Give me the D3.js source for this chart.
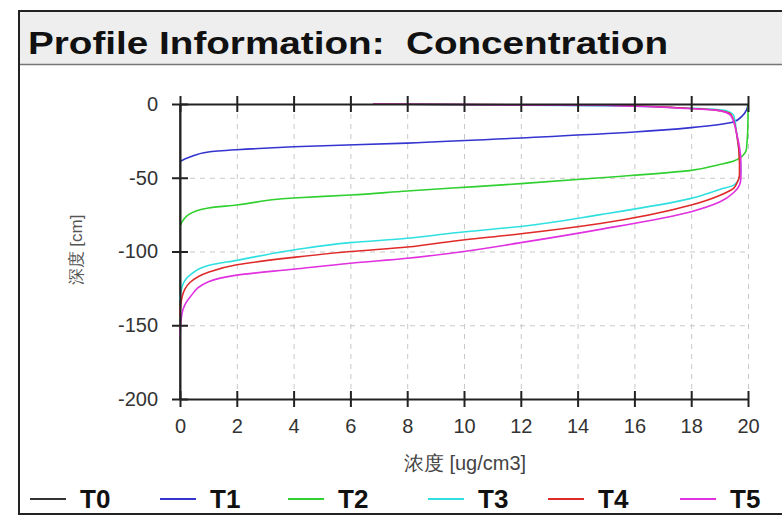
<!DOCTYPE html>
<html>
<head>
<meta charset="utf-8">
<script src="https://cdn.jsdelivr.net/npm/d3@7"></script>
<style>
  body { margin: 0; background: #fff; }
  svg { display: block; font-family: "Liberation Sans", Arial, sans-serif; }
  .title { white-space: pre; }
</style>
</head>
<body>
<svg id="chart" width="782" height="516"></svg>
<script>
// series: concentration [ug/cm3] vs depth [cm]
const seriesNames = ['T0', 'T1', 'T2', 'T3', 'T4', 'T5']
const seriesColors = ['#333333', '#3434d0', '#30d030', '#30e0e0', '#e02a2a', '#e030e0']

const t0Conc  = [0, 0]
const t0Depth = [0, -200]

const t1Conc  = [20, 19.95, 19.8, 19.5, 18, 16, 12, 8, 4, 2, 1, 0.35, 0]
const t1Depth = [0, -4, -8, -12, -16, -19, -23, -26.5, -29, -31, -32.5, -36, -39]

const t2Conc  = [20, 20, 19.95, 19.9, 19.5, 19, 18, 14.8, 12, 9.6, 8, 6, 4, 2, 1, 0.3, 0]
const t2Depth = [0, -10, -30, -33, -38.6, -41, -45, -50, -54, -57, -59, -61.7, -63.7, -68.5, -70.5, -75, -83]

const t3Conc  = [7.2, 12, 16, 17.5, 18.7, 19.3, 19.5, 19.6, 19.7, 19.75, 19.7, 19.5, 19, 18, 14.8, 12, 9.6, 8, 6, 4, 2, 1, 0.35, 0.07, 0]
const t3Depth = [0, -0.8, -1.5, -2.5, -3.5, -5, -8, -20, -35, -45, -50, -55, -58, -64, -75, -83, -87.5, -91, -94, -99, -106, -109.5, -116, -124, -133]

const t4Conc  = [6.8, 15, 17.5, 18.8, 19.4, 19.6, 19.7, 19.7, 19.6, 19.5, 19, 18, 14.8, 12, 9.6, 8, 6, 4, 2, 1, 0.35, 0.07, 0]
const t4Depth = [0, -0.8, -2.5, -4, -7, -20, -40, -48, -54, -57, -62, -68.5, -81, -88, -93, -97, -100, -104, -109, -114, -121, -131, -143]

const t5Conc  = [6.8, 15, 17.8, 19, 19.4, 19.6, 19.75, 19.75, 19.7, 19.5, 19, 18, 14.8, 12, 9.6, 8, 6, 4, 2, 1, 0.35, 0.07, 0]
const t5Depth = [0, -1, -3, -4.5, -8, -20, -40, -50, -55, -60, -66.5, -73, -85, -94, -101, -104.6, -108, -112, -116, -120.5, -131, -142, -158]

const xTicks = [0, 2, 4, 6, 8, 10, 12, 14, 16, 18, 20]
const yTicks = [0, -50, -100, -150, -200]

const titleText = 'Profile Information:  Concentration'
const xLabel = '浓度 [ug/cm3]'
const yLabel = '深度 [cm]'

const concs = [t0Conc, t1Conc, t2Conc, t3Conc, t4Conc, t5Conc]
const depths = [t0Depth, t1Depth, t2Depth, t3Depth, t4Depth, t5Depth]

const svg = d3.select('#chart')
const plot = { left: 180, right: 748, top: 104, bottom: 399 }

// panel + title bar
svg.append('rect')
    .attr('x', 19).attr('y', 11).attr('width', 800).attr('height', 503)
    .attr('fill', '#fff').attr('stroke', '#222').attr('stroke-width', 2)
svg.append('rect')
    .attr('x', 20).attr('y', 12).attr('width', 800).attr('height', 52)
    .attr('fill', '#eeeeee')
svg.append('line')
    .attr('x1', 20).attr('x2', 782).attr('y1', 64.5).attr('y2', 64.5)
    .attr('stroke', '#777').attr('stroke-width', 1.5)
svg.append('text')
    .attr('class', 'title')
    .attr('x', 28).attr('y', 54)
    .attr('font-size', 31).attr('font-weight', 'bold').attr('fill', '#111')
    .attr('textLength', 640).attr('lengthAdjust', 'spacingAndGlyphs')
    .text(titleText)

var x = d3.scaleLinear().domain([0, 20]).range([plot.left, plot.right])
var y = d3.scaleLinear().domain([-200, 0]).range([plot.bottom, plot.top])

// grid
svg.append('g')
    .attr('transform', `translate(0,${plot.bottom})`)
    .call(d3.axisBottom(x).tickValues(xTicks.slice(1)).tickSize(-(plot.bottom - plot.top)).tickFormat(''))
    .call(g => g.select('.domain').remove())
    .selectAll('line').attr('stroke', '#c8c8c8').attr('stroke-dasharray', '5,5')
svg.append('g')
    .attr('transform', `translate(${plot.left},0)`)
    .call(d3.axisLeft(y).tickValues([-50, -100, -150]).tickSize(-(plot.right - plot.left)).tickFormat(''))
    .call(g => g.select('.domain').remove())
    .selectAll('line').attr('stroke', '#c8c8c8').attr('stroke-dasharray', '5,5')

// curves
var line = d3.line()
    .x(d => x(d[0]))
    .y(d => y(d[1]))
    .curve(d3.curveMonotoneY)

concs.forEach((c, i) => {
    let pts = c.map((v, j) => [v, depths[i][j]]).sort((a, b) => a[1] - b[1])
    svg.append('path')
        .datum(pts)
        .attr('fill', 'none')
        .attr('stroke', seriesColors[i])
        .attr('stroke-width', 1.6)
        .attr('d', line)
})

// axes (crossing ticks)
function styleAxis(g, vertical) {
    g.select('.domain').attr('stroke', '#222').attr('stroke-width', 2)
    g.selectAll('.tick line').attr('stroke', '#222').attr('stroke-width', 2)
        .attr(vertical ? 'x1' : 'y1', -8).attr(vertical ? 'x2' : 'y2', 8)
    g.selectAll('.tick text').attr('fill', '#333').attr('font-size', 20)
        .attr('font-family', '"Liberation Sans", Arial, sans-serif')
}
const plain = d => String(d)

svg.append('g')
    .attr('transform', `translate(0,${plot.top})`)
    .call(d3.axisTop(x).tickValues(xTicks).tickSizeOuter(0).tickFormat(''))
    .call(g => styleAxis(g, false))

svg.append('g')
    .attr('transform', `translate(0,${plot.bottom})`)
    .call(d3.axisBottom(x).tickValues(xTicks).tickSizeOuter(0).tickPadding(14).tickFormat(plain))
    .call(g => styleAxis(g, false))

svg.append('g')
    .attr('transform', `translate(${plot.left},0)`)
    .call(d3.axisLeft(y).tickValues(yTicks).tickSizeOuter(0).tickPadding(16).tickFormat(plain))
    .call(g => styleAxis(g, true))

// axis titles
svg.append('text')
    .attr('x', 465).attr('y', 470)
    .attr('text-anchor', 'middle').attr('font-size', 20).attr('fill', '#444')
    .text(xLabel)
svg.append('text')
    .attr('transform', 'translate(82,250) rotate(-90)')
    .attr('text-anchor', 'middle').attr('font-size', 17).attr('fill', '#555')
    .text(yLabel)

// legend
const legendX = [30, 160, 288, 428, 548, 680]
seriesNames.forEach((name, i) => {
    svg.append('line')
        .attr('x1', legendX[i]).attr('x2', legendX[i] + 36)
        .attr('y1', 499).attr('y2', 499)
        .attr('stroke', seriesColors[i]).attr('stroke-width', 2)
    svg.append('text')
        .attr('x', legendX[i] + 50).attr('y', 508)
        .attr('font-size', 26).attr('font-weight', 'bold').attr('fill', '#111')
        .text(name)
})
</script>
</body>
</html>
